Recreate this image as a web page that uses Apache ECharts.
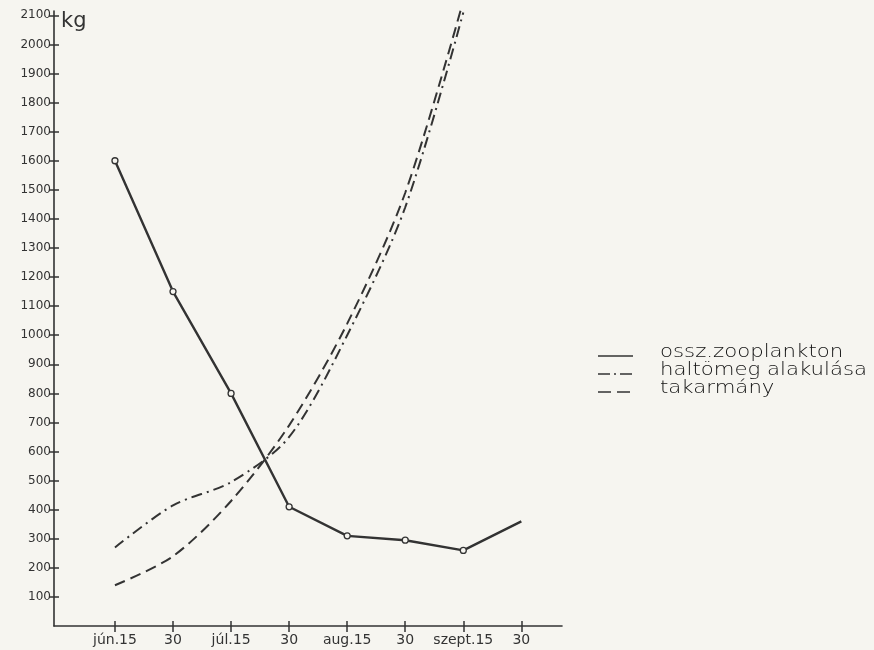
<!DOCTYPE html>
<html><head><meta charset="utf-8">
<script src="https://cdn.jsdelivr.net/npm/echarts@6/dist/echarts.min.js"></script>
<style>html,body{margin:0;padding:0;background:#f6f5f0}#c{width:874px;height:650px}</style>
</head><body><div id="c"></div>
<script>
const categories = ['jún.15', '30', 'júl.15', '30', 'aug.15', '30', 'szept.15', '30'];
const yTicks = [100,200,300,400,500,600,700,800,900,1000,1100,1200,1300,1400,1500,1600,1700,1800,1900,2000,2100];
const zooplankton = [1600, 1150, 800, 410, 310, 295, 260, 360];
const haltomeg = [270, 415, 495, 650, 1000, 1440, 2110];
const takarmany = [140, 240, 430, 690, 1040, 1490, 2150];
const seriesNames = ['ossz.zooplankton', 'haltömeg alakulása', 'takarmány'];

const ink = '#333333';
const xIdx = categories.map((c, i) => i);
const font = 'DejaVu Sans';

const chart = echarts.init(document.getElementById('c'));
const baseX = {
  type: 'value', min: -1.05, max: 7.7, position: 'bottom',
  axisLine: { show: true, onZero: false, lineStyle: { color: ink, width: 1.6 } },
  splitLine: { show: false }
};
const baseY = {
  type: 'value', min: 0, max: 2115, position: 'left',
  axisLine: { show: true, onZero: false, lineStyle: { color: ink, width: 1.6 } },
  splitLine: { show: false }
};
const legendText = (name, y) => ({
  type: 'text', x: 660, y: y, scaleX: 1.25, scaleY: 1,
  style: { text: name, fontSize: 17, fontFamily: font, fontWeight: 200, fill: '#111', textVerticalAlign: 'middle' }
});
chart.setOption({
  backgroundColor: '#f6f5f0',
  animation: false,
  grid: { left: 54, right: 312, top: 11, bottom: 24, containLabel: false },
  xAxis: [
    Object.assign({}, baseX, {
      axisTick: { show: true, length: 6, customValues: xIdx, lineStyle: { color: ink, width: 1.5 } },
      axisLabel: { customValues: xIdx, formatter: v => categories[Math.round(v)], color: ink, fontSize: 14, fontFamily: font, margin: 7 }
    }),
    Object.assign({}, baseX, {
      axisLine: { show: false, onZero: false },
      axisTick: { show: true, inside: true, length: 5, customValues: xIdx, lineStyle: { color: ink, width: 1.5 } },
      axisLabel: { show: false }
    })
  ],
  yAxis: [
    Object.assign({}, baseY, {
      axisTick: { show: true, length: 5, customValues: yTicks, lineStyle: { color: ink, width: 1.5 } },
      axisLabel: { customValues: yTicks, formatter: v => String(v), color: ink, fontSize: 12, fontFamily: font, margin: 3 }
    }),
    Object.assign({}, baseY, {
      axisLine: { show: false, onZero: false },
      axisTick: { show: true, inside: true, length: 5, customValues: yTicks, lineStyle: { color: ink, width: 1.5 } },
      axisLabel: { show: false }
    })
  ],
  series: [
    {
      name: seriesNames[0], type: 'line',
      data: zooplankton.map((v, i) => i === zooplankton.length - 1 ? { value: [i, v], symbol: 'none' } : [i, v]),
      symbol: 'circle', symbolSize: 6, showSymbol: true,
      itemStyle: { color: '#f6f5f0', borderColor: ink, borderWidth: 1.3 },
      lineStyle: { color: ink, width: 2.4 },
      z: 3
    },
    {
      name: seriesNames[1], type: 'line',
      data: haltomeg.map((v, i) => [i, v]),
      smooth: 0.3, showSymbol: false,
      lineStyle: { color: ink, width: 2, type: [11, 5, 2, 5] }
    },
    {
      name: seriesNames[2], type: 'line',
      data: takarmany.map((v, i) => [i, v]),
      smooth: 0.3, showSymbol: false,
      lineStyle: { color: ink, width: 2, type: [11, 6] }
    }
  ],
  graphic: [
    { type: 'text', left: 61, top: 11, style: { text: 'kg', fontSize: 21, fontFamily: font, fill: ink } },
    { type: 'line', shape: { x1: 598, y1: 356, x2: 633, y2: 356 }, style: { stroke: ink, lineWidth: 1.6 } },
    { type: 'line', shape: { x1: 598, y1: 374, x2: 633, y2: 374 }, style: { stroke: ink, lineWidth: 1.6, lineDash: [12, 4, 2, 4] } },
    { type: 'line', shape: { x1: 598, y1: 392, x2: 633, y2: 392 }, style: { stroke: ink, lineWidth: 1.6, lineDash: [13, 6] } },
    legendText(seriesNames[0], 353),
    legendText(seriesNames[1], 371),
    legendText(seriesNames[2], 389)
  ]
});
</script></body></html>
